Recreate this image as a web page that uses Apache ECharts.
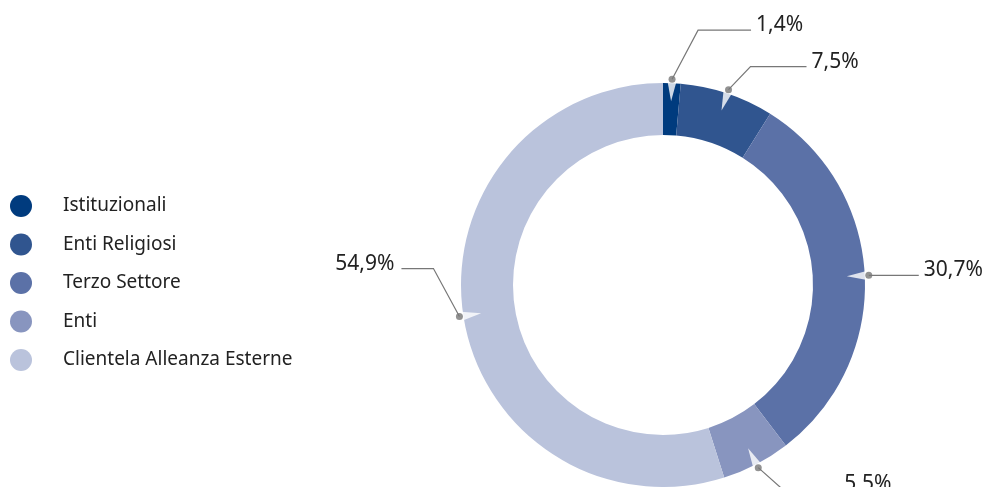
<!DOCTYPE html>
<html>
<head>
<meta charset="utf-8">
<title>Composizione clientela</title>
<script src="https://cdn.jsdelivr.net/npm/echarts@6/dist/echarts.min.js"></script>
<style>
  html, body { margin: 0; padding: 0; background: #fff; }
  #chart { width: 988px; height: 487px; }
</style>
</head>
<body>
<div id="chart"></div>
<script>
// dati
const categories = ['Istituzionali', 'Enti Religiosi', 'Terzo Settore', 'Enti', 'Clientela Alleanza Esterne'];
const shares = [1.4, 7.5, 30.7, 5.5, 54.9];
const colors = ['#003b7e', '#30558f', '#5b71a7', '#8895bf', '#bac3dc'];

// geometria del grafico (pixel)
const cx = 663, cy = 285;
const rIn = 150, rOut = 202, rDot = 206;

// gomiti delle linee guida, relativi al punto sul bordo
const leaders = [
  { bend: [26, -49], run: 53, lift: 5 },
  { bend: [22, -23], run: 56, lift: 5 },
  { bend: [0, 0], run: 50, lift: 5 },
  { bend: [27, 24], run: 54, lift: 8 },
  { bend: [-26, -48], run: -32, lift: 5 }
];

// posizione a metà di ogni fetta, in percentuale
const mids = [];
let acc = 0;
shares.forEach(v => { mids.push(acc + v / 2); acc += v; });

const fmt = v => String(v).replace('.', ',') + '%';

const chart = echarts.init(document.getElementById('chart'));

chart.setOption({
  backgroundColor: '#fff',
  animation: false,
  textStyle: { fontFamily: 'Noto Sans' },
  legend: {
    orient: 'vertical',
    left: 10,
    top: 195,
    padding: 0,
    icon: 'circle',
    itemWidth: 22,
    itemHeight: 22,
    itemGap: 16.5,
    selectedMode: false,
    textStyle: { fontSize: 19, color: '#222', lineHeight: 22, padding: [0, 0, 0, 26] },
    data: categories
  },
  polar: { center: [cx, cy], radius: rDot },
  angleAxis: {
    min: 0, max: 100, startAngle: 90, clockwise: true,
    axisLine: { show: false }, axisTick: { show: false },
    axisLabel: { show: false }, splitLine: { show: false }
  },
  radiusAxis: {
    min: 0, max: rDot,
    axisLine: { show: false }, axisTick: { show: false },
    axisLabel: { show: false }, splitLine: { show: false }
  },
  series: [
    {
      name: 'Clientela',
      type: 'pie',
      center: [cx, cy],
      radius: [rIn, rOut],
      startAngle: 90,
      clockwise: true,
      avoidLabelOverlap: false,
      data: categories.map((c, i) => ({ name: c, value: shares[i], itemStyle: { color: colors[i] } })),
      label: {
        show: true,
        position: 'outside',
        formatter: p => fmt(p.value),
        fontSize: 21,
        color: '#222'
      },
      labelLine: { show: true, lineStyle: { color: '#777', width: 1.2 } },
      labelLayout: function (params) {
        const i = params.dataIndex;
        const a = (90 - mids[i] * 3.6) * Math.PI / 180;
        const x0 = cx + rDot * Math.cos(a);
        const y0 = cy - rDot * Math.sin(a);
        const L = leaders[i];
        const x1 = x0 + L.bend[0], y1 = y0 + L.bend[1];
        const x2 = x1 + L.run;
        const right = L.run >= 0;
        return {
          x: x2 + (right ? 5 : -7),
          y: y1 - L.lift,
          align: right ? 'left' : 'right',
          verticalAlign: 'middle',
          labelLinePoints: [[x0, y0], [x1, y1], [x2, y1]]
        };
      },
      emphasis: { disabled: true }
    },
    {
      // tacche bianche sul bordo esterno
      type: 'scatter',
      coordinateSystem: 'polar',
      z: 3,
      silent: true,
      symbol: 'triangle',
      symbolSize: [9, 20],
      itemStyle: { color: '#fff' },
      data: mids.map(m => ({ value: [194, m], symbolRotate: 180 - m * 3.6 }))
    },
    {
      // punti delle linee guida
      type: 'scatter',
      coordinateSystem: 'polar',
      z: 4,
      silent: true,
      symbol: 'circle',
      symbolSize: 7,
      itemStyle: { color: '#777' },
      data: mids.map(m => [rDot, m])
    }
  ]
});
</script>
</body>
</html>
